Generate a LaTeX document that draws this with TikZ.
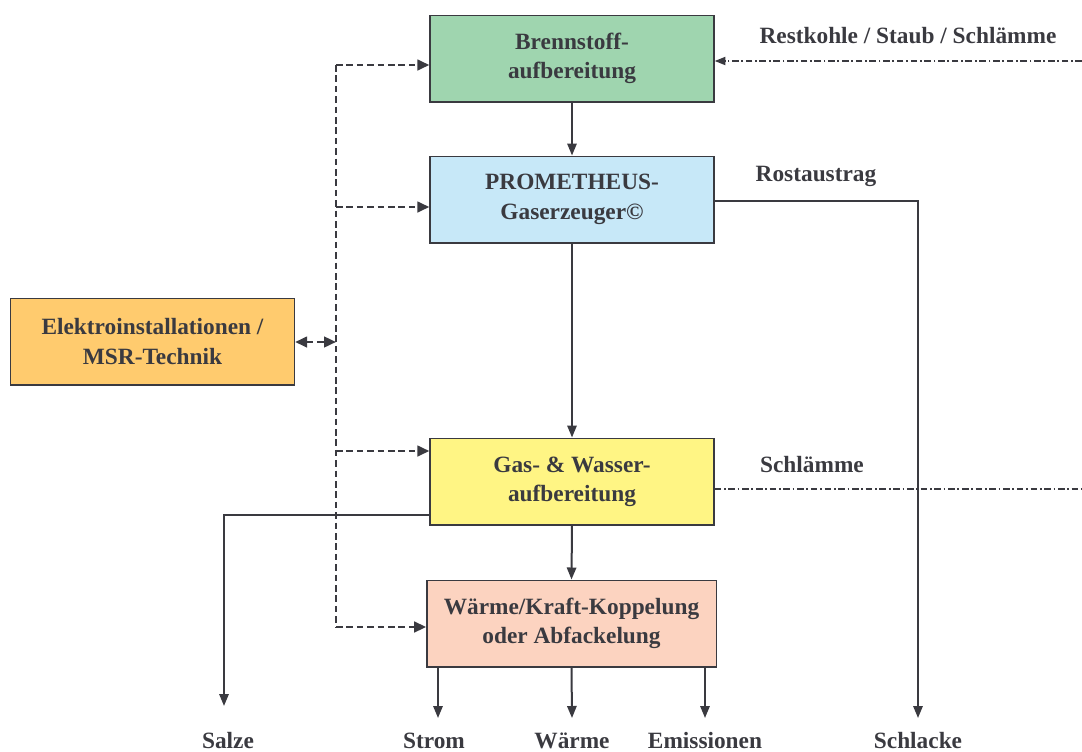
\documentclass[tikz,border=0pt]{standalone}
\usepackage{fontspec}
\setmainfont{LiberationSerif}[Extension=.ttf, UprightFont=*-Regular, BoldFont=*-Bold, ItalicFont=*-Italic, BoldItalicFont=*-BoldItalic]
\usetikzlibrary{arrows.meta}
\definecolor{ink}{HTML}{3A3A40}
\definecolor{cgreen}{HTML}{9FD5AF}
\definecolor{cblue}{HTML}{C7E8F8}
\definecolor{corange}{HTML}{FFCB6E}
\definecolor{cyellow}{HTML}{FFF584}
\definecolor{cpink}{HTML}{FCD3C0}
\tikzset{
  box/.style={draw=ink, line width=1pt, minimum width=213pt, minimum height=65pt, inner sep=0pt, align=center, font=\fontsize{17.5}{22}\selectfont\bfseries, text=ink},
  lbl/.style={font=\fontsize{17.5}{22}\selectfont\bfseries, text=ink, inner sep=0pt},
  flow/.style={draw=ink, line width=1.5pt, -{Triangle[length=9pt,width=7pt]}},
  ctrl/.style={draw=ink, line width=1.8pt, dash pattern=on 5pt off 2.8pt, -{Triangle[length=9pt,width=8pt]}},
  dd/.style={draw=ink, line width=1.3pt, dash pattern=on 5pt off 2pt on 1.3pt off 2pt}
}
\begin{document}
\begin{tikzpicture}[x=0.75pt,y=-0.75pt]
\useasboundingbox (0,0) rectangle (1082,751);
\node[box, fill=cgreen] (bs) at (572,58.5) {Brennstoff-\\aufbereitung};
\node[box, fill=cblue] (pg) at (572,199.5) {PROMETHEUS-\\Gaserzeuger©};
\node[box, fill=corange] (el) at (152.5,341.5) {Elektroinstallationen /\\MSR-Technik};
\node[box, fill=cyellow] (gw) at (572,481.5) {Gas- \& Wasser-\\aufbereitung};
\node[box, fill=cpink, minimum width=217pt] (wk) at (571.5,623.5) {Wärme/Kraft-Koppelung\\oder Abfackelung};

\node[lbl] (rk) at (908,36) {Restkohle / Staub / Schlämme};
\node[lbl] (ra) at (816,176) {Rostaustrag};
\node[lbl] (sm) at (812,465) {Schlämme};
\node[lbl, anchor=base] (sa) at (228,748) {Salze};
\node[lbl, anchor=base] (st) at (434,748) {Strom};
\node[lbl, anchor=base] (wa) at (572,748) {Wärme};
\node[lbl, anchor=base] (em) at (705,748) {Emissionen};
\node[lbl, anchor=base] (sl) at (918,748) {Schlacke};

\coordinate (rin) at (1082,61);
\coordinate (sout) at (1082,489);
\coordinate (bus) at (336,65);
\coordinate (busend) at (336,627);

% main flow
\draw[flow] (bs.south) -- (pg.north);
\draw[flow] (pg.south) -- (gw.north);
\draw[flow] (gw.south) -- (wk.north);

% dashed control bus
\draw[draw=ink, line width=1.8pt, dash pattern=on 5pt off 2.8pt] (bus) -- (busend);
\draw[ctrl] (bus) -- (bs.west |- bus);
\draw[ctrl] (336,207) -- (pg.west |- 0,207);
\draw[ctrl] (336,451) -- (gw.west |- 0,451);
\draw[ctrl] (busend) -- (wk.west |- busend);
\draw[ctrl, {Triangle[length=9pt,width=8pt]}-{Triangle[length=9pt,width=8pt]}] (el.east |- 0,342) -- (336,342);

% side streams
\draw[dd, -{Triangle[length=8pt,width=6pt]}] (rin) -- (bs.east |- rin);
\draw[dd] (gw.east |- sout) -- (sout);
\draw[flow] (pg.east |- 0,201) -- (918,201) -- (918,718);
\draw[flow] (gw.west |- 0,515) -- (224,515) -- (224,706);

% outputs
\draw[flow] (438,667) -- (438,718);
\draw[flow] (wk.south) -- (572,718);
\draw[flow] (705,667) -- (705,718);
\end{tikzpicture}
\end{document}
